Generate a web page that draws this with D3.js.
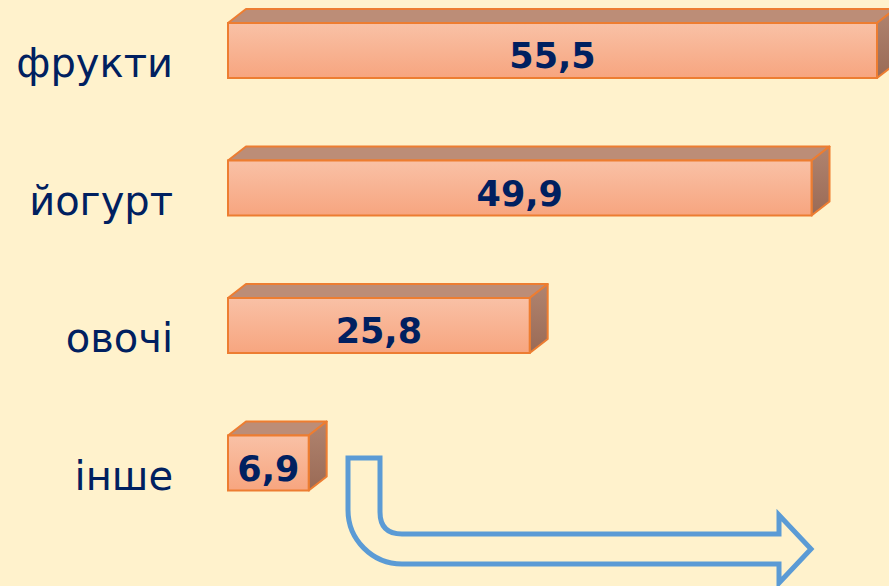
<!DOCTYPE html>
<html lang="uk">
<head>
<meta charset="UTF-8">
<title>chart</title>
<script src="https://cdn.jsdelivr.net/npm/d3@7"></script>
<style>
  body { margin: 0; background: #FFF2CC; }
  svg { display: block; }
</style>
</head>
<body>
<div class="chart"></div>
<script>
  const categories = ['фрукти', 'йогурт', 'овочі', 'інше']
  const values = [55.5, 49.9, 25.8, 6.9]
  const valueLabels = ['55,5', '49,9', '25,8', '6,9']

  const width = 889
  const height = 586
  const depth = { dx: 18, dy: -14 }

  const svg = d3.select('.chart').append('svg')
    .attr('width', width)
    .attr('height', height)

  svg.append('rect').attr('width', width).attr('height', height).attr('fill', '#FFF2CC')

  const defs = svg.append('defs')
  const gFront = defs.append('linearGradient').attr('id', 'front').attr('x1', 0).attr('y1', 0).attr('x2', 0).attr('y2', 1)
  gFront.append('stop').attr('offset', '0%').attr('stop-color', '#F9C1A6')
  gFront.append('stop').attr('offset', '100%').attr('stop-color', '#F7A57F')
  const gSide = defs.append('linearGradient').attr('id', 'side').attr('x1', 0).attr('y1', 0).attr('x2', 0).attr('y2', 1)
  gSide.append('stop').attr('offset', '0%').attr('stop-color', '#B08470')
  gSide.append('stop').attr('offset', '100%').attr('stop-color', '#9A6A55')

  const x = d3.scaleLinear().domain([0, 55.5]).range([228, 877])
  const y = d3.scaleBand().domain(categories).range([23, 490.5]).paddingInner(0.6).paddingOuter(0)
  const bw = y.bandwidth()

  const bars = svg.selectAll('.bar')
    .data(categories)
    .join('g')
    .attr('class', 'bar')

  // top face
  bars.append('path')
    .attr('d', (d, i) => {
      const x0 = x(0), x1 = x(values[i]), y0 = y(d)
      return `M${x0},${y0} L${x0 + depth.dx},${y0 + depth.dy} L${x1 + depth.dx},${y0 + depth.dy} L${x1},${y0} Z`
    })
    .attr('fill', '#BC8D77')
    .attr('stroke', '#ED7D31')
    .attr('stroke-width', 2)
    .attr('stroke-linejoin', 'round')

  // side face
  bars.append('path')
    .attr('d', (d, i) => {
      const x1 = x(values[i]), y0 = y(d)
      return `M${x1},${y0} L${x1 + depth.dx},${y0 + depth.dy} L${x1 + depth.dx},${y0 + bw + depth.dy} L${x1},${y0 + bw} Z`
    })
    .attr('fill', 'url(#side)')
    .attr('stroke', '#ED7D31')
    .attr('stroke-width', 2)
    .attr('stroke-linejoin', 'round')

  // front face
  bars.append('rect')
    .attr('x', x(0))
    .attr('y', d => y(d))
    .attr('width', (d, i) => x(values[i]) - x(0))
    .attr('height', bw)
    .attr('fill', 'url(#front)')
    .attr('stroke', '#ED7D31')
    .attr('stroke-width', 2)

  bars.append('text')
    .attr('x', (d, i) => (x(0) + x(values[i])) / 2)
    .attr('y', d => y(d) + 45)
    .attr('text-anchor', 'middle')
    .attr('font-family', 'DejaVu Sans')
    .attr('font-weight', 'bold')
    .attr('font-size', 35)
    .attr('fill', '#002060')
    .text((d, i) => valueLabels[i])

  // category labels
  svg.selectAll('.cat')
    .data(categories)
    .join('text')
    .attr('class', 'cat')
    .attr('x', 173)
    .attr('y', d => y(d) + bw - 1)
    .attr('text-anchor', 'end')
    .attr('font-family', 'DejaVu Sans')
    .attr('font-size', 40)
    .attr('fill', '#002060')
    .text(d => d)

  // bent arrow
  const ax0 = 348, ax1 = 380, atop = 458
  const yUp = 534, yLow = 564, rIn = 22, rOut = 54
  const headX = 779, tipX = 811, headTop = 515, headBot = 583
  const arrow = d3.path()
  arrow.moveTo(ax0, atop)
  arrow.lineTo(ax1, atop)
  arrow.lineTo(ax1, yUp - rIn)
  arrow.quadraticCurveTo(ax1, yUp, ax1 + rIn, yUp)
  arrow.lineTo(headX, yUp)
  arrow.lineTo(headX, headTop)
  arrow.lineTo(tipX, (yUp + yLow) / 2)
  arrow.lineTo(headX, headBot)
  arrow.lineTo(headX, yLow)
  arrow.lineTo(ax0 + rOut, yLow)
  arrow.bezierCurveTo(ax0 + rOut * 0.45, yLow, ax0, yLow - rOut * 0.45, ax0, yLow - rOut)
  arrow.closePath()
  svg.append('path')
    .attr('d', arrow.toString())
    .attr('fill', 'none')
    .attr('stroke', '#5B9BD5')
    .attr('stroke-width', 5)
    .attr('stroke-linejoin', 'miter')
</script>
</body>
</html>
